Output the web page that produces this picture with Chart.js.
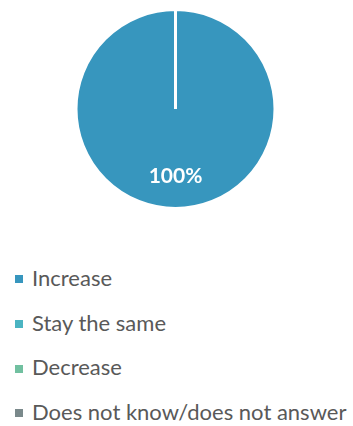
<!DOCTYPE html>
<html>
<head>
<meta charset="utf-8">
<script src="https://cdn.jsdelivr.net/npm/chart.js@4"></script>
<style>
    html, body { margin: 0; padding: 0; background: #fff; }
    body { width: 353px; height: 426px; position: relative; overflow: hidden; font-family: Lato, "Open Sans", sans-serif; }
    #pieWrap { position: absolute; left: 0; top: 0; width: 353px; height: 218px; }
    #legend { position: absolute; left: 15px; top: 256px; margin: 0; padding: 0; list-style: none; }
    #legend li { height: 44.7px; line-height: 44.7px; font-size: 22px; color: #595959; white-space: nowrap; }
    #legend .box { display: inline-block; width: 8px; height: 8px; margin-right: 9px; vertical-align: middle; position: relative; top: -1px; }
</style>
</head>
<body>
<div id="pieWrap"><canvas id="pie"></canvas></div>
<ul id="legend"></ul>
<script>
// ============================================================================
// EXPECTATION PIE (single answer share)
// ============================================================================

const answerLabels = ['Increase', 'Stay the same', 'Decrease', 'Does not know/does not answer'];
const answerShares = [100, 0, 0, 0];
const answerColors = ['#3796BE', '#4BB4C2', '#71C0A0', '#7A898B'];

// writes the percentage inside each non-empty slice
const sliceLabels = {
    id: 'sliceLabels',
    afterDatasetsDraw(chart) {
        const { ctx } = chart;
        const meta = chart.getDatasetMeta(0);
        ctx.save();
        ctx.fillStyle = '#ffffff';
        ctx.font = 'bold 21px Lato, "Open Sans", sans-serif';
        ctx.textAlign = 'center';
        ctx.textBaseline = 'middle';
        meta.data.forEach((arc, i) => {
            const v = answerShares[i];
            if (!v) return;
            const p = arc.getProps(['x', 'y', 'startAngle', 'endAngle', 'outerRadius'], true);
            const mid = (p.startAngle + p.endAngle) / 2;
            const r = p.outerRadius * 0.68;
            ctx.fillText(v + '%', p.x + Math.cos(mid) * r, p.y + Math.sin(mid) * r);
        });
        ctx.restore();
    }
};

const ctx = document.getElementById('pie').getContext('2d');
const chart = new Chart(ctx, {
    type: 'pie',
    data: {
        labels: answerLabels,
        datasets: [{
            data: answerShares,
            backgroundColor: answerColors,
            borderColor: '#ffffff',
            borderWidth: 3,
            hoverOffset: 0,
            offset: 0
        }]
    },
    options: {
        responsive: true,
        maintainAspectRatio: false,
        animation: false,
        layout: { padding: { top: 8, bottom: 8, left: 0, right: 2 } },
        plugins: {
            legend: { display: false },
            tooltip: { enabled: false }
        }
    },
    plugins: [sliceLabels]
});

// html legend, one row per answer
const legendEl = document.getElementById('legend');
answerLabels.forEach((label, i) => {
    const li = document.createElement('li');
    const box = document.createElement('span');
    box.className = 'box';
    box.style.background = answerColors[i];
    li.appendChild(box);
    li.appendChild(document.createTextNode(label));
    legendEl.appendChild(li);
});
</script>
</body>
</html>
